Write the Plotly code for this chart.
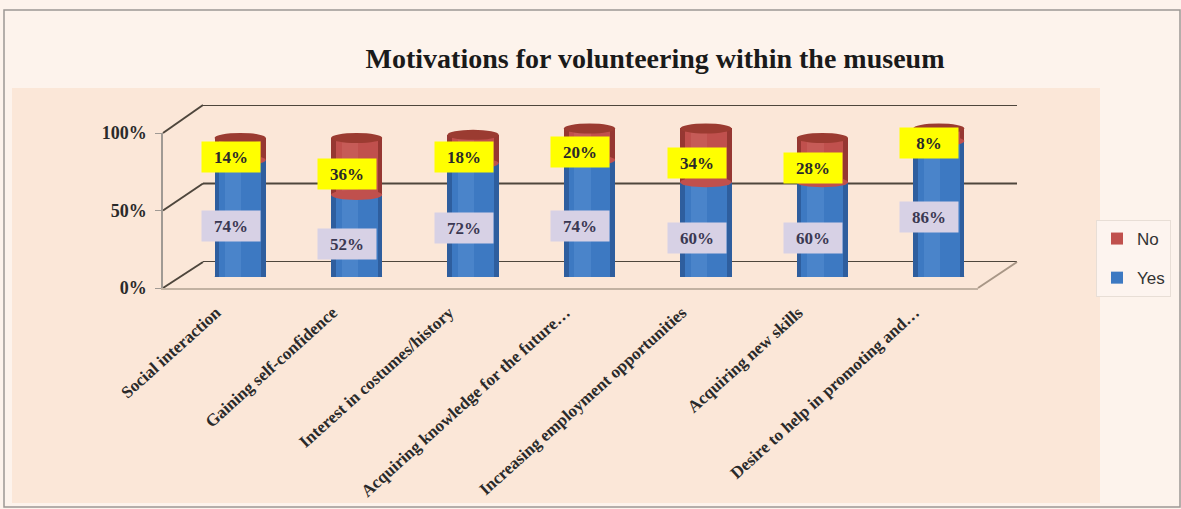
import plotly.graph_objects as go

# Survey answers (percent of respondents)
categories = [
    "Social interaction",
    "Gaining self-confidence",
    "Interest in costumes/history",
    "Acquiring knowledge for the future…",
    "Increasing employment opportunities",
    "Acquiring new skills",
    "Desire to help in promoting and…",
]
yes_values = [74, 52, 72, 74, 60, 60, 86]
no_values = [14, 36, 18, 20, 34, 28, 8]
axis_ticks = [0, 50, 100]
axis_ticktext = ["0%", "50%", "100%"]

W, H = 1181, 509


def px(x):
    return x / W


def py(y):
    return 1 - y / H


SERIF = "Liberation Serif"

# three vertical planes of the pseudo-3D box: bars (middle), back wall, front axis
dom_bars = [py(277), py(119)]
dom_back = [py(262), py(105)]
dom_front = [py(288), py(133)]
dom_x = [px(182), px(997)]
dom_x_front = [px(163), px(978)]
BACK_LEFT, BACK_RIGHT = px(203), px(1017)

BLUE_EDGE, BLUE_MID, BLUE_HI = "#2E5E9E", "#3D79C2", "#5A93D4"
RED_EDGE, RED_MID, RED_HI = "#963732", "#C0504D", "#CF6A64"
RED_TOP = "#9B3B31"

fig = go.Figure()

idx = list(range(len(categories)))
tops = [y + n for y, n in zip(yes_values, no_values)]


def cylinder(name, values, base, cols, group, rank):
    edge, mid, hi = cols
    fig.add_trace(go.Bar(x=idx, y=values, base=base, width=0.44, marker_color=edge,
                         marker_line_width=0, showlegend=False, hoverinfo="skip"))
    fig.add_trace(go.Bar(x=idx, y=values, base=base, width=0.36, marker_color=mid,
                         marker_line_width=0, name=name, legendgroup=group,
                         legendrank=rank, showlegend=True, hoverinfo="skip"))
    fig.add_trace(go.Bar(x=idx, y=values, base=base, width=0.14, offset=-0.13,
                         marker_color=hi, marker_line_width=0, opacity=0.45,
                         showlegend=False, hoverinfo="skip"))


cylinder("Yes", yes_values, [0] * len(idx), (BLUE_EDGE, BLUE_MID, BLUE_HI), "yes", 2)
cylinder("No", no_values, yes_values, (RED_EDGE, RED_MID, RED_HI), "no", 1)

# empty traces so the back-wall and front-axis planes get drawn
fig.add_trace(go.Scatter(x=[], y=[], xaxis="x", yaxis="y2", showlegend=False))
fig.add_trace(go.Scatter(x=[], y=[], xaxis="x2", yaxis="y3", showlegend=False))

shapes = []
# page frame and plot-area tint
shapes.append(dict(type="rect", xref="paper", yref="paper", x0=px(12), x1=px(1100),
                   y0=py(503), y1=py(88), fillcolor="#FBE7D8", line_width=0, layer="below"))
shapes.append(dict(type="rect", xref="paper", yref="paper", x0=px(4), x1=px(1180),
                   y0=py(507), y1=py(10), line=dict(color="#9C9894", width=1.5),
                   fillcolor="rgba(0,0,0,0)", layer="below"))

GRID = "#4E463C"
for v in axis_ticks:
    # back-wall gridline
    shapes.append(dict(type="line", xref="paper", yref="y2", x0=BACK_LEFT, x1=BACK_RIGHT,
                       y0=v, y1=v, line=dict(color=GRID, width=2), layer="below"))
    # side-wall edge from front axis to back wall
    fy = dom_front[0] + v / 100 * (dom_front[1] - dom_front[0])
    by = dom_back[0] + v / 100 * (dom_back[1] - dom_back[0])
    shapes.append(dict(type="line", xref="paper", yref="paper", x0=dom_x_front[0],
                       x1=BACK_LEFT, y0=fy, y1=by, line=dict(color=GRID, width=2),
                       layer="below"))
# right floor edge
shapes.append(dict(type="line", xref="paper", yref="paper", x0=dom_x_front[1], x1=BACK_RIGHT,
                   y0=dom_front[0], y1=dom_back[0], line=dict(color="#A89686", width=2),
                   layer="below"))

# cylinder ends: base, Yes/No seam and top cap
R = 3.2
for i, (y, t) in enumerate(zip(yes_values, tops)):
    shapes.append(dict(type="circle", xref="x", yref="y", x0=i - 0.22, x1=i + 0.22,
                       y0=-R, y1=R, fillcolor=BLUE_EDGE, line_width=0, layer="below"))
    shapes.append(dict(type="circle", xref="x", yref="y", x0=i - 0.22, x1=i + 0.22,
                       y0=y - R, y1=y + R, fillcolor=RED_MID, line_width=0, layer="above"))
    shapes.append(dict(type="circle", xref="x", yref="y", x0=i - 0.22, x1=i + 0.22,
                       y0=t - R, y1=t + R, fillcolor=RED_TOP, line_width=0, layer="above"))

annotations = []
for i, (y, n) in enumerate(zip(yes_values, no_values)):
    annotations.append(dict(x=i - 0.08, y=y / 2 - 5, xref="x", yref="y", text=f"{y}%",
                            showarrow=False, bgcolor="#D7D1E5", borderpad=4,
                            width=50, height=22,
                            font=dict(family=SERIF, size=17, color="#3A3852", weight="bold")))
    annotations.append(dict(x=i - 0.08, y=y + n / 2 - 5, xref="x", yref="y", text=f"{n}%",
                            showarrow=False, bgcolor="#FFFF00", borderpad=4,
                            width=50, height=22,
                            font=dict(family=SERIF, size=17, color="#2A2A2A", weight="bold")))

fig.update_layout(
    width=W, height=H,
    margin=dict(l=0, r=0, t=0, b=0, autoexpand=False),
    paper_bgcolor="#FDF3EC",
    plot_bgcolor="rgba(0,0,0,0)",
    barmode="overlay",
    bargap=0,
    title=dict(text="Motivations for volunteering within the museum",
               x=px(655), y=py(58), xanchor="center", yanchor="middle",
               font=dict(family=SERIF, size=28, color="#1A1A1A", weight="bold")),
    xaxis=dict(domain=dom_x, range=[-0.5, 6.5], showticklabels=False, showgrid=False,
               zeroline=False, showline=False, anchor="y", automargin=False),
    yaxis=dict(domain=dom_bars, range=[0, 100], visible=False, fixedrange=True,
               anchor="x", automargin=False),
    yaxis2=dict(domain=dom_back, range=[0, 100], visible=False, anchor="x",
                automargin=False),
    xaxis2=dict(domain=dom_x_front, range=[-0.5, 6.5], anchor="y3",
                tickmode="array", tickvals=idx, ticktext=categories, tickangle=-42,
                showgrid=False, zeroline=False, showline=True, linecolor="#C2B2A2",
                linewidth=2, ticks="", side="bottom", automargin=False,
                ticklabelshift=-5, ticklabelstandoff=6,
                tickfont=dict(family=SERIF, size=17, color="#2A2A2A", weight="bold")),
    yaxis3=dict(domain=dom_front, range=[0, 100], anchor="x2",
                tickmode="array", tickvals=axis_ticks, ticktext=axis_ticktext,
                showgrid=False, zeroline=False, showline=True, linecolor="#A09A94",
                linewidth=1.5, ticks="outside", ticklen=6, tickcolor="#A09A94",
                automargin=False, ticklabelstandoff=5,
                tickfont=dict(family=SERIF, size=18, color="#2A2A2A", weight="bold")),
    legend=dict(x=px(1096), y=py(220), xanchor="left", yanchor="top",
                traceorder="grouped", tracegroupgap=14,
                bgcolor="#FDF4EF", bordercolor="#E8DED6", borderwidth=1,
                font=dict(family="Liberation Sans", size=17, color="#333333")),
    shapes=shapes,
    annotations=annotations,
)

fig.write_html("out.html")
